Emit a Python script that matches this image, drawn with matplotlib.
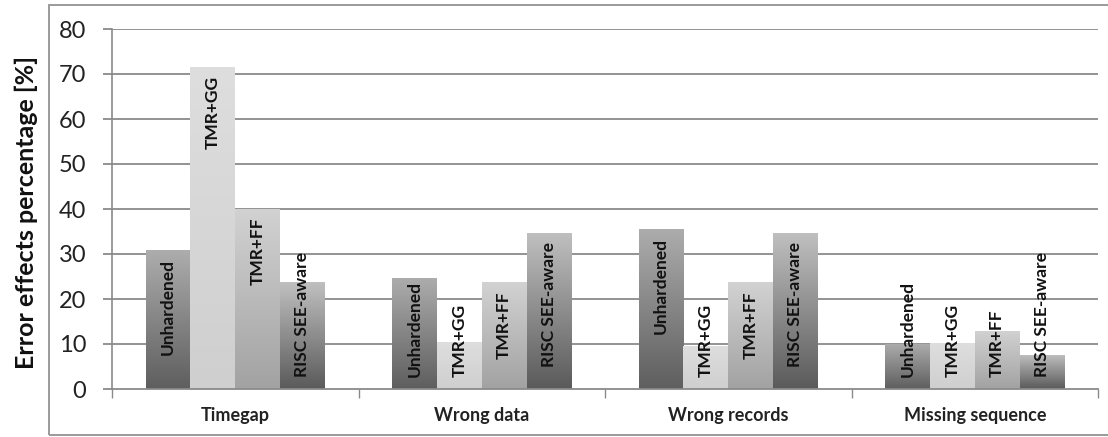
import numpy as np
import matplotlib
matplotlib.use("Agg")
import matplotlib.pyplot as plt
from matplotlib.colors import LinearSegmentedColormap
from matplotlib.patches import Rectangle

# ---- data -------------------------------------------------------------
categories = ["Timegap", "Wrong data", "Wrong records", "Missing sequence"]
series_names = ["Unhardened", "TMR+GG", "TMR+FF", "RISC SEE-aware"]
unhardened = [30.8, 24.7, 35.6, 10.1]
tmr_gg = [71.5, 10.4, 9.6, 10.2]
tmr_ff = [40.1, 23.7, 23.7, 13.0]
risc_see_aware = [23.7, 34.7, 34.7, 7.6]
y_ticks = [0, 10, 20, 30, 40, 50, 60, 70, 80]
y_label = "Error effects percentage [%]"

series_values = [unhardened, tmr_gg, tmr_ff, risc_see_aware]
# gradient shades (bottom, top) for each series
series_shades = [("#5e5e5e", "#adadad"),
                 ("#cfcfcf", "#dedede"),
                 ("#a2a2a2", "#d2d2d2"),
                 ("#5a5a5a", "#c0c0c0")]

FONT = "Lato"
GRID = "#8a8a8a"

W, H = 1108, 437
fig = plt.figure(figsize=(W / 100, H / 100), dpi=100)
ax = fig.add_axes([112 / W, (H - 389) / H, (1098 - 112) / W, (389 - 29) / H])

# outer chart border
fig.patches.append(Rectangle((49 / W, 2 / H), 1.2, (435 - 5) / H,
                             transform=fig.transFigure, fill=False,
                             edgecolor="#9a9a9a", linewidth=1.4, zorder=0))

n_series = len(series_names)
gap = 1.5
bar_w = 1.0 / (n_series + gap)
x = np.arange(len(categories))

ax.set_xlim(0, len(categories))
ax.set_ylim(y_ticks[0], y_ticks[-1])

# horizontal gridlines
for t in y_ticks[1:]:
    ax.axhline(t, color=GRID, linewidth=1.3, zorder=1)

grad = np.linspace(0, 1, 256).reshape(-1, 1)
bars_info = []
for i, (name, vals, (c0, c1)) in enumerate(zip(series_names, series_values, series_shades)):
    cmap = LinearSegmentedColormap.from_list(name, [c0, c1])
    offs = (i - (n_series - 1) / 2) * bar_w
    bars = ax.bar(x + 0.5 + offs, vals, width=bar_w, color="none",
                  edgecolor="none", zorder=2)
    for b, v in zip(bars, vals):
        x0 = b.get_x()
        img = ax.imshow(grad, cmap=cmap, origin="lower", aspect="auto",
                        extent=(x0, x0 + bar_w, 0, v), zorder=2,
                        interpolation="bilinear")
        img.set_clip_path(b)
        bars_info.append((x0 + bar_w / 2, v, name))

ax.set_xlim(0, len(categories))
ax.set_ylim(y_ticks[0], y_ticks[-1])

# spines / ticks
for s in ["top", "right"]:
    ax.spines[s].set_visible(False)
ax.spines["left"].set_color(GRID)
ax.spines["bottom"].set_color(GRID)
ax.spines["left"].set_linewidth(1.2)
ax.spines["bottom"].set_linewidth(1.3)
ax.spines["bottom"].set_zorder(3)

ax.set_yticks(y_ticks)
ax.set_yticklabels([str(t) for t in y_ticks], fontsize=17, family=FONT,
                   color="#222222")
ax.tick_params(axis="y", length=6.5, width=1.3, color=GRID, pad=12)

ax.set_xticks(np.arange(len(categories) + 1))
ax.set_xticklabels([])
ax.tick_params(axis="x", length=6.5, width=1.0, color=GRID)
ax.set_xticks(x + 0.5, minor=True)
ax.set_xticklabels(categories, minor=True, fontsize=13, fontweight="bold",
                   family=FONT, color="#222222")
ax.tick_params(axis="x", which="minor", length=0, pad=13)

ax.set_ylabel(y_label, fontsize=18, fontweight="bold", family=FONT,
              color="#111111")
ax.yaxis.set_label_coords(-0.075, 0.49)

# value-position labels: inside the top of the bar, or from the base
# when the bar is too short to hold the text
fig.canvas.draw()
renderer = fig.canvas.get_renderer()
base_px = ax.transData.transform((0, 0))[1]
for bx, v, name in bars_info:
    t = ax.annotate(name, xy=(bx, v), xytext=(0, -6.5), textcoords="offset points",
                    rotation=90, ha="center", va="top", fontsize=12.5,
                    fontweight="bold", family=FONT, color="#111111", zorder=4)
    ext = t.get_window_extent(renderer)
    if ext.y0 < base_px + 11:
        t.remove()
        ax.annotate(name, xy=(bx, 0), xytext=(0, 8.5), textcoords="offset points",
                    rotation=90, ha="center", va="bottom", fontsize=12.5,
                    fontweight="bold", family=FONT, color="#111111", zorder=4)

fig.savefig("out.png", dpi=100)
